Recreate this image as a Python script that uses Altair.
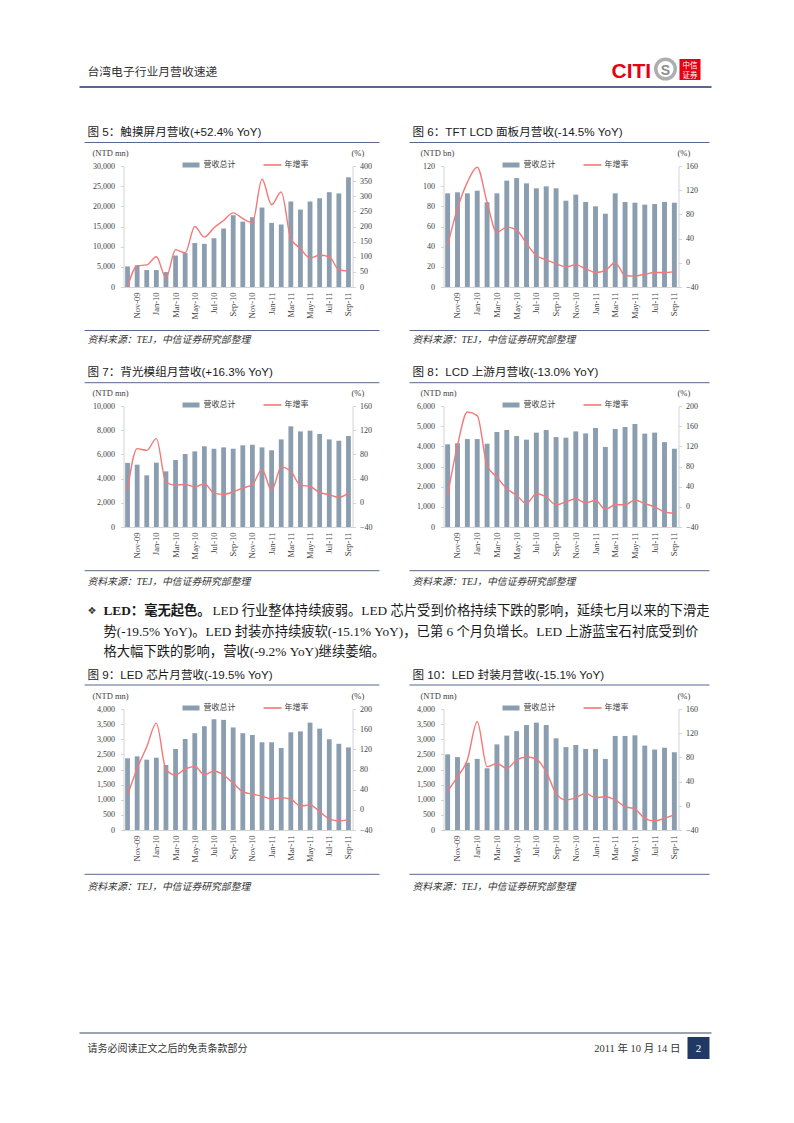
import altair as alt
import pandas as pd

# ---------------- data ----------------
months = ["Oct-09", "Nov-09", "Dec-09", "Jan-10", "Feb-10", "Mar-10", "Apr-10", "May-10",
          "Jun-10", "Jul-10", "Aug-10", "Sep-10", "Oct-10", "Nov-10", "Dec-10", "Jan-11",
          "Feb-11", "Mar-11", "Apr-11", "May-11", "Jun-11", "Jul-11", "Aug-11", "Sep-11"]
month_labels = months[1::2]

rev_touch = [5100, 5400, 4200, 4200, 3700, 7800, 8400, 10900, 10700, 12100, 14500, 17800,
             16200, 17300, 19700, 15900, 15500, 21200, 19200, 21200, 22000, 23500, 23200, 27200]
yoy_touch = [0, 70, 73, 100, 30, 123, 113, 200, 165, 196, 220, 245,
             226, 213, 356, 272, 314, 160, 127, 96, 105, 100, 57, 52.4]

rev_tft = [92.9, 93.9, 92.9, 95.5, 84.0, 92.9, 105.5, 108.0, 102.8, 97.9, 99.8, 97.9,
           85.6, 91.6, 84.3, 80.0, 72.7, 92.9, 84.3, 83.6, 81.7, 82.3, 84.3, 83.6]
yoy_tft = [29, 90, 133, 158, 100, 50, 59, 54, 32, 12, 5, -1.5,
           -7, -3, -10, -16, -12.5, 0, -21, -22, -19, -16, -16, -14.5]

rev_blu = [5300, 5150, 4270, 5320, 4600, 5540, 6030, 6250, 6670, 6470, 6580, 6470,
           6750, 6800, 6580, 6340, 7240, 8320, 7900, 7960, 7690, 7240, 7130, 7520]
yoy_blu = [20.6, 89.5, 86.7, 106, 34, 29, 30.5, 26, 31.6, 16, 14, 18,
           24.5, 30, 55, 20.6, 59, 52, 29, 27, 17, 13.5, 9, 16.3]

rev_up = [4100, 4150, 4360, 4360, 4130, 4710, 4810, 4510, 4330, 4680, 4810, 4460,
          4430, 4740, 4640, 4910, 3970, 4860, 4960, 5110, 4630, 4680, 4210, 3880]
yoy_up = [23, 122, 188, 181, 82, 59, 36, 23, 6.5, 26, 19.5, 4,
          10, 16, 7.6, 13, -5, 4, 4, 13.5, 6.5, 0, -10, -13]

rev_chip = [2370, 2435, 2325, 2390, 2150, 2680, 3010, 3200, 3430, 3660, 3640, 3390,
            3200, 3140, 2900, 2900, 2710, 3230, 3260, 3550, 3350, 3000, 2850, 2730]
yoy_chip = [29, 82, 125, 172, 80, 69, 81, 86, 70, 77, 69, 53,
            36, 31, 27, 21.5, 24, 21, 7.6, 9.6, -3.6, -18, -22, -19.5]

rev_pkg = [2500, 2410, 2225, 2350, 2040, 2830, 3120, 3270, 3470, 3550, 3470, 3030,
           2740, 2810, 2680, 2680, 2350, 3110, 3110, 3130, 2790, 2660, 2720, 2570]
yoy_pkg = [24.5, 48, 75.7, 139, 64.7, 70, 62, 75.7, 80.7, 77, 56, 20.6,
           9.6, 13.4, 20.6, 13.4, 15, 9.6, -1.4, -5.3, -20.7, -25, -20.7, -15.1]

titles = ["图 5：触摸屏月营收(+52.4% YoY)", "图 6：TFT LCD 面板月营收(-14.5% YoY)",
          "图 7：背光模组月营收(+16.3% YoY)", "图 8：LCD 上游月营收(-13.0% YoY)",
          "图 9：LED 芯片月营收(-19.5% YoY)", "图 10：LED 封装月营收(-15.1% YoY)"]
units = ["(NTD mn)", "(NTD bn)", "(NTD mn)", "(NTD mn)", "(NTD mn)", "(NTD mn)"]
left_ticks = [list(range(0, 30001, 5000)), list(range(0, 121, 20)), list(range(0, 10001, 2000)),
              list(range(0, 6001, 1000)), list(range(0, 4001, 500)), list(range(0, 4001, 500))]
right_ticks = [list(range(0, 401, 50)), list(range(-40, 161, 40)), list(range(-40, 161, 40)),
               list(range(-40, 201, 40)), list(range(-40, 201, 40)), list(range(-40, 161, 40))]
revs = [rev_touch, rev_tft, rev_blu, rev_up, rev_chip, rev_pkg]
yoys = [yoy_touch, yoy_tft, yoy_blu, yoy_up, yoy_chip, yoy_pkg]

legend_bar = "营收总计"
legend_line = "年增率"
source_text = "资料来源：TEJ，中信证券研究部整理"
header_text = "台湾电子行业月营收速递"
para_bold = "LED：毫无起色。"
para_l1 = "LED 行业整体持续疲弱。LED 芯片受到价格持续下跌的影响，延续七月以来的下滑走"
para_l2 = "势(-19.5% YoY)。LED 封装亦持续疲软(-15.1% YoY)，已第 6 个月负增长。LED 上游蓝宝石衬底受到价"
para_l3 = "格大幅下跌的影响，营收(-9.2% YoY)继续萎缩。"
footer_text = "请务必阅读正文之后的免责条款部分"
date_text = "2011 年 10 月 14 日"
page_no = "2"

# ---------------- styles / layout ----------------
BAR = "#8b9eb0"
RED = "#f37878"
AXC = "#d4d4d4"
LAB = "#404040"
NAVY = "#1f3864"
RULEC = "#56688c"
SERIF = "Liberation Serif"
CJK = "Noto Sans CJK SC"
MIX = "Liberation Serif, Noto Sans CJK SC"
SANSMIX = "Liberation Sans, Noto Sans CJK SC"

COLS = [dict(x=124, w=229, tx=88, l1=85, l2=380, ux=93),
        dict(x=444, w=235, tx=413, l1=410, l2=710, ux=421)]
ROWTOPS = [40, 166, 287, 406, 527, 709, 830]
ROWH = [126, 121, 119, 121, 182, 121, 60]
ROWGEO = {1: dict(title=135.5, uline=142.5, unit=155.5, srule=330.5, src=342.5),
          3: dict(title=375.5, uline=382.7, unit=395.5, srule=570.7, src=585),
          5: dict(title=678.7, uline=685, unit=699, srule=874.3, src=889.5)}

ONE = pd.DataFrame({"k": [0]})


def txt(text, x, y, size, color="#333333", font=CJK, weight="normal", style="normal",
        align="left", baseline="alphabetic"):
    return alt.Chart(ONE).mark_text(text=text, fontSize=size, color=color, font=font,
                                    fontWeight=weight, fontStyle=style, align=align,
                                    baseline=baseline).encode(x=alt.value(x), y=alt.value(y))


def hrule(x1, x2, y, color, width):
    return alt.Chart(ONE).mark_rule(color=color, strokeWidth=width).encode(
        x=alt.value(x1), x2=alt.value(x2), y=alt.value(y))


def box(x1, x2, y1, y2, color):
    return alt.Chart(ONE).mark_rect(color=color).encode(
        x=alt.value(x1), x2=alt.value(x2), y=alt.value(y1), y2=alt.value(y2))


def filler(w, h):
    return alt.Chart(ONE).mark_text(text=" ").encode(
        x=alt.value(0), y=alt.value(0)).properties(width=w, height=h)


def panel(k, col, row):
    c = COLS[col]
    g = ROWGEO[row]
    ox, oy = c["x"], ROWTOPS[row]
    W, H = c["w"], ROWH[row]
    df = pd.DataFrame({"m": months, "i": list(range(len(months))), "rev": revs[k], "yoy": yoys[k]})
    lt, rt = left_ticks[k], right_ticks[k]
    x = alt.X("m:N", sort=months, title=None,
              scale=alt.Scale(paddingInner=0.5, paddingOuter=0.17),
              axis=alt.Axis(values=month_labels, labelAngle=270, ticks=False, labelPadding=5,
                            domainColor=AXC, labelFont=SERIF, labelFontSize=8.5,
                            labelColor=LAB, labelOverlap=False, grid=False))
    bars = alt.Chart(df).mark_bar(color=BAR).encode(
        x=x,
        y=alt.Y("rev:Q", title=None, scale=alt.Scale(domain=[lt[0], lt[-1]], nice=False),
                axis=alt.Axis(orient="left", values=lt, format=",.0f", grid=False, domainColor=AXC,
                              tickColor=AXC, tickSize=3, labelPadding=6, labelFont=SERIF,
                              labelFontSize=8, labelColor=LAB, labelOverlap=False)))
    line = alt.Chart(df).mark_line(color=RED, strokeWidth=1.4, interpolate="monotone").encode(
        x=x,
        y=alt.Y("yoy:Q", title=None, scale=alt.Scale(domain=[rt[0], rt[-1]], nice=False),
                axis=alt.Axis(orient="right", values=rt, format=".0f", grid=False, domainColor=AXC,
                              tickColor=AXC, tickSize=3, labelPadding=4, labelFont=SERIF,
                              labelFontSize=8, labelColor=LAB, labelOverlap=False)),
        order=alt.Order("i:Q"))
    deco = [
        txt(titles[k], c["tx"] - ox, g["title"] - oy, 11.6, color="#1a1a1a", font=SANSMIX),
        hrule(c["l1"] - ox, c["l2"] - ox, g["uline"] - oy, RULEC, 1),
        txt(units[k], c["ux"] - ox, g["unit"] - oy, 8.5, color=LAB, font=SERIF),
        txt("(%)", W - 1, g["unit"] - oy, 8.5, color=LAB, font=SERIF),
        box(59, 76, -3.5, 1.5, BAR),
        txt(legend_bar, 80, -1, 8, color=LAB, font=CJK, baseline="middle"),
        hrule(140, 158, -1, RED, 1.6),
        txt(legend_line, 161, -1, 8, color=LAB, font=CJK, baseline="middle"),
        hrule(c["l1"] - ox, c["l2"] - ox, g["srule"] - oy, RULEC, 1),
        txt(source_text, c["tx"] - ox, g["src"] - oy, 9.8, color="#333333", font=MIX, style="italic"),
    ]
    return alt.layer(bars, line, *deco).resolve_scale(y="independent").properties(width=W, height=H)


# header cells
hx, hy = COLS[0]["x"], ROWTOPS[0]
header_left = alt.layer(
    hrule(0, 2, 20 - hy, "white", 1),
    txt(header_text, 88 - hx, 76 - hy, 11.8, color="#333333", font=CJK),
    hrule(80 - hx, 712 - hx, 87 - hy, NAVY, 1.5),
).properties(width=COLS[0]["w"], height=ROWH[0])

rx0, ry0 = COLS[1]["x"], ROWTOPS[0]
header_right = alt.layer(
    txt("CITI", 612 - rx0, 78 - ry0, 21, color="#e60012", font="Liberation Sans", weight="bold"),
    alt.Chart(ONE).mark_point(shape="circle", size=380, filled=False, stroke="#8c8c8c",
                              strokeWidth=3.5).encode(x=alt.value(666 - rx0), y=alt.value(69 - ry0)),
    txt("S", 666 - rx0, 74.5 - ry0, 14, color="#8c8c8c", font="Liberation Sans", weight="bold",
        align="center"),
    box(680 - rx0, 701 - rx0, 59 - ry0, 80 - ry0, "#e60012"),
    txt("中信", 690.5 - rx0, 68 - ry0, 7.5, color="white", font=CJK, align="center"),
    txt("证券", 690.5 - rx0, 78 - ry0, 7.5, color="white", font=CJK, align="center"),
).properties(width=COLS[1]["w"], height=ROWH[0])

# paragraph cell
px, py = COLS[0]["x"], ROWTOPS[4]
para = alt.layer(
    txt("❖", 88 - px, 614 - py, 10, color="#333333", font="DejaVu Sans"),
    txt(para_bold, 104 - px, 615 - py, 13.3, color="#1a1a1a", font=MIX, weight="bold"),
    txt(para_l1, 213 - px, 615 - py, 13.3, color="#1a1a1a", font=MIX),
    txt(para_l2, 104 - px, 636 - py, 13.3, color="#1a1a1a", font=MIX),
    txt(para_l3, 104 - px, 656 - py, 13.3, color="#1a1a1a", font=MIX),
).properties(width=COLS[0]["w"], height=ROWH[4])

# footer cell
fx, fy = COLS[0]["x"], ROWTOPS[6]
footer = alt.layer(
    hrule(80 - fx, 712 - fx, 1033 - fy, "#3a4a6b", 1.2),
    txt(footer_text, 88 - fx, 1052 - fy, 10, color="#333333", font=CJK),
    txt(date_text, 681 - fx, 1052 - fy, 10.5, color="#333333", font=MIX, align="right"),
    box(688 - fx, 710 - fx, 1037 - fy, 1059 - fy, NAVY),
    txt(page_no, 699 - fx, 1052 - fy, 11, color="white", font=SERIF, align="center"),
).properties(width=COLS[0]["w"], height=ROWH[6])

cells = [
    header_left, header_right,
    panel(0, 0, 1), panel(1, 1, 1),
    filler(COLS[0]["w"], ROWH[2]), filler(COLS[1]["w"], ROWH[2]),
    panel(2, 0, 3), panel(3, 1, 3),
    para, filler(COLS[1]["w"], ROWH[4]),
    panel(4, 0, 5), panel(5, 1, 5),
    footer, filler(COLS[1]["w"], ROWH[6]),
]

chart = alt.concat(
    *cells, columns=2,
    spacing={"row": 0, "column": COLS[1]["x"] - COLS[0]["x"] - COLS[0]["w"]},
    bounds="flush",
    padding={"left": 70.5, "top": 11, "right": 4, "bottom": 4},
).configure_view(strokeWidth=0)

chart.save("out.html", embed_options={"renderer": "svg", "actions": False})
